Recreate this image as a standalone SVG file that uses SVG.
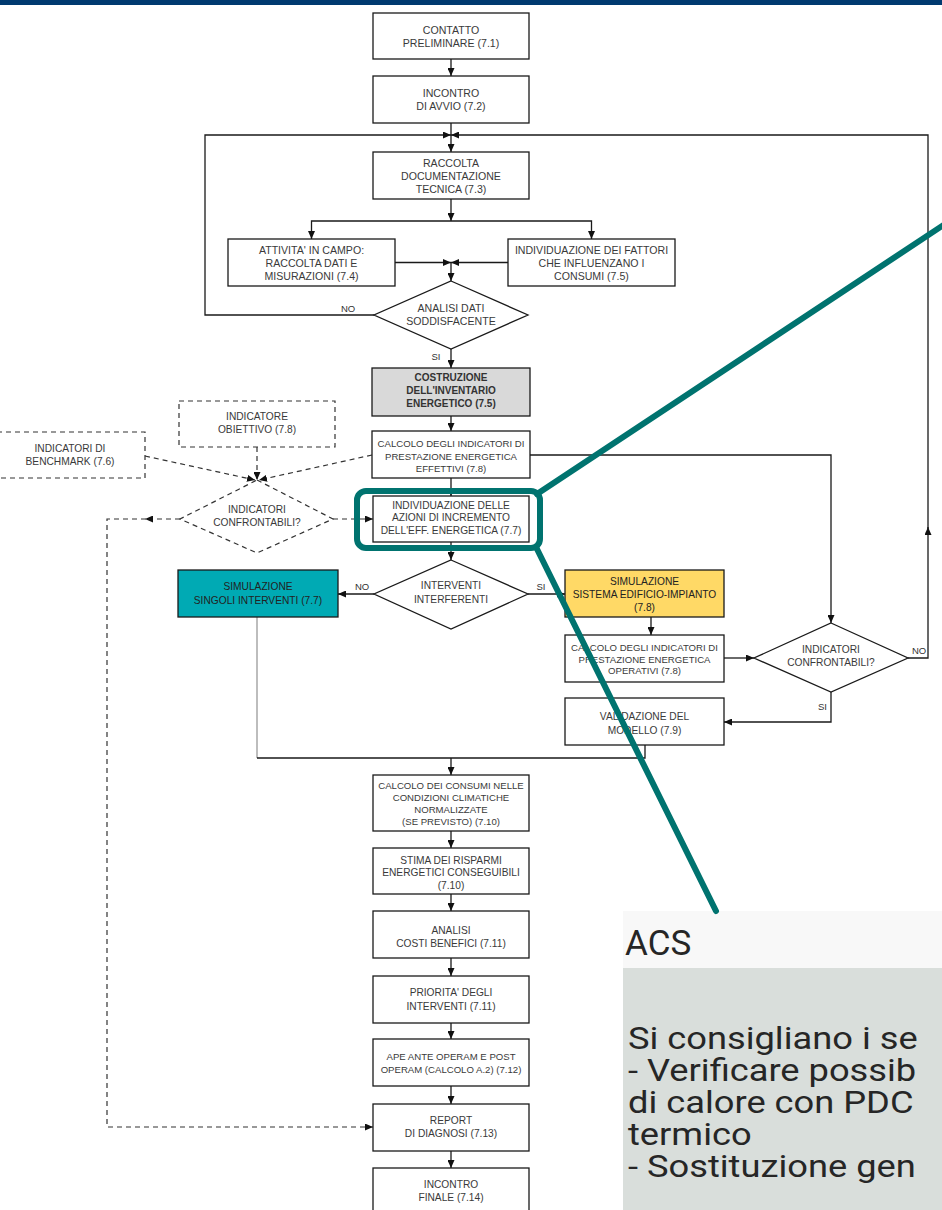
<svg xmlns="http://www.w3.org/2000/svg" width="942" height="1210" viewBox="0 0 942 1210">
  <defs>
    <marker id="arrow" viewBox="0 0 8 7" refX="8" refY="3.5" markerWidth="8" markerHeight="7" markerUnits="userSpaceOnUse" orient="auto">
      <path d="M0,0 L8,3.5 L0,7 Z" fill="#111"/>
    </marker>
    <style>
      .box { fill: #ffffff; stroke: #1a1a1a; stroke-width: 1.3; }
      .dbox { fill: #ffffff; stroke: #333; stroke-width: 1.2; stroke-dasharray: 5 4; }
      .grey { fill: #d9d9d9; }
      .teal { fill: #00aab4; }
      .yellow { fill: #ffd966; }
      .t { font-family: "Liberation Sans", Arial, sans-serif; font-size: 10.2px; fill: #3a3a3a; text-anchor: middle; }
      .tl { font-size: 10.6px; }
      .ts { font-size: 9.6px; }
      .tb { font-weight: bold; font-size: 10px; fill: #333; }
      .dark { fill: #222; }
      .lab { font-family: "Liberation Sans", Arial, sans-serif; font-size: 9.5px; fill: #333; text-anchor: middle; }
      .ln { fill: none; stroke: #1a1a1a; stroke-width: 1.3; }
      .lg { fill: none; stroke: #9a9a9a; stroke-width: 1.3; }
      .ld { fill: none; stroke: #333; stroke-width: 1.2; stroke-dasharray: 5 4; }
      .hl { fill: none; stroke: #00736f; stroke-width: 6; stroke-linecap: round; }
      .acs { font-family: Roboto, "Noto Sans", sans-serif; fill: #262626; }
    </style>
  </defs>

  <rect width="942" height="1210" fill="#ffffff"/>
  <!-- page header band -->
  <rect x="0" y="0" width="942" height="5" fill="#003a70"/>

  <!-- connectors -->
  <g id="connectors">
    <path class="ln" d="M451,59 V76" marker-end="url(#arrow)"/>
    <path class="ln" d="M451,123 V152" marker-end="url(#arrow)"/>
    <path class="ln" d="M374,315 H205 V135 H451" marker-end="url(#arrow)"/>
    <path class="ln" d="M908,658 H928 V527" marker-end="url(#arrow)"/>
    <path class="ln" d="M928,530 V135 H451" marker-end="url(#arrow)"/>
    <path class="ln" d="M451,199 V221" marker-end="url(#arrow)"/>
    <path class="ln" d="M451,221 H311.5 V239" marker-end="url(#arrow)"/>
    <path class="ln" d="M451,221 H591.5 V239" marker-end="url(#arrow)"/>
    <path class="ln" d="M395,262.5 H451" marker-end="url(#arrow)"/>
    <path class="ln" d="M508,262.5 H451" marker-end="url(#arrow)"/>
    <path class="ln" d="M451,262.5 V281" marker-end="url(#arrow)"/>
    <path class="ln" d="M451,349 V368" marker-end="url(#arrow)"/>
    <path class="ln" d="M451,416 V431" marker-end="url(#arrow)"/>
    <path class="ln" d="M451,478 V496" marker-end="url(#arrow)"/>
    <path class="ln" d="M530,455 H831 V623" marker-end="url(#arrow)"/>
    <path class="ld" d="M145,456 L255,480" marker-end="url(#arrow)"/>
    <path class="ld" d="M257,447 V480" marker-end="url(#arrow)"/>
    <path class="ld" d="M372,455 L259,480" marker-end="url(#arrow)"/>
    <path class="ld" d="M333,519 H373" marker-end="url(#arrow)"/>
    <path class="ld" d="M180,519 H145" marker-end="url(#arrow)"/>
    <path class="ld" d="M146,519 H107 V1127 H373" marker-end="url(#arrow)"/>
    <path class="ln" d="M451,542 V560" marker-end="url(#arrow)"/>
    <path class="ln" d="M374,594 H338" marker-end="url(#arrow)"/>
    <path class="ln" d="M528,594 H565" marker-end="url(#arrow)"/>
    <path class="ln" d="M651,617 V635" marker-end="url(#arrow)"/>
    <path class="ln" d="M724,658 H754" marker-end="url(#arrow)"/>
    <path class="ln" d="M831,692 V722 H724" marker-end="url(#arrow)"/>
    <path class="lg" d="M257,617 V758"/>
    <path class="ln" d="M257,758 H645 V745"/>
    <path class="ln" d="M451,758 V775" marker-end="url(#arrow)"/>
    <path class="ln" d="M451,831 V848" marker-end="url(#arrow)"/>
    <path class="ln" d="M451,894 V911" marker-end="url(#arrow)"/>
    <path class="ln" d="M451,958 V976" marker-end="url(#arrow)"/>
    <path class="ln" d="M451,1023 V1039" marker-end="url(#arrow)"/>
    <path class="ln" d="M451,1086 V1104" marker-end="url(#arrow)"/>
    <path class="ln" d="M451,1151 V1168" marker-end="url(#arrow)"/>
    <text class="lab" x="348" y="311.5">NO</text>
    <text class="lab" x="436" y="359.5">SI</text>
    <text class="lab" x="362" y="590">NO</text>
    <text class="lab" x="541" y="590">SI</text>
    <text class="lab" x="919" y="654">NO</text>
    <text class="lab" x="822.5" y="710">SI</text>
  </g>

  <g id="n-contatto">
    <rect class="box" x="373" y="13" width="156" height="46"/>
    <text class="t tl" x="451" y="33.5">CONTATTO</text>
    <text class="t tl" x="451" y="47">PRELIMINARE (7.1)</text>
  </g>
  <g id="n-incontro-avvio">
    <rect class="box" x="373" y="76" width="156" height="47"/>
    <text class="t tl" x="451" y="97">INCONTRO</text>
    <text class="t tl" x="451" y="110">DI AVVIO (7.2)</text>
  </g>
  <g id="n-raccolta">
    <rect class="box" x="373" y="152" width="156" height="47"/>
    <text class="t tl" x="451" y="167">RACCOLTA</text>
    <text class="t tl" x="451" y="180">DOCUMENTAZIONE</text>
    <text class="t tl" x="451" y="193">TECNICA (7.3)</text>
  </g>
  <g id="n-attivita">
    <rect class="box" x="228" y="239" width="167" height="47"/>
    <text class="t tl" x="311.5" y="253.5">ATTIVITA' IN CAMPO:</text>
    <text class="t tl" x="311.5" y="267">RACCOLTA DATI E</text>
    <text class="t tl" x="311.5" y="280">MISURAZIONI (7.4)</text>
  </g>
  <g id="n-fattori">
    <rect class="box" x="508" y="239" width="167" height="47"/>
    <text class="t tl" x="591.5" y="253.5">INDIVIDUAZIONE DEI FATTORI</text>
    <text class="t tl" x="591.5" y="267">CHE  INFLUENZANO I</text>
    <text class="t tl" x="591.5" y="280">CONSUMI (7.5)</text>
  </g>
  <g id="n-analisi-dati">
    <polygon class="box" points="451,281 528,315 451,349 374,315"/>
    <text class="t tl" x="451" y="312">ANALISI DATI</text>
    <text class="t tl" x="451" y="325">SODDISFACENTE</text>
  </g>
  <g id="n-costruzione">
    <rect class="box grey" x="372" y="368" width="158" height="48"/>
    <text class="t tb" x="451" y="381">COSTRUZIONE</text>
    <text class="t tb" x="451" y="394">DELL'INVENTARIO</text>
    <text class="t tb" x="451" y="406.5">ENERGETICO (7.5)</text>
  </g>
  <g id="n-obiettivo">
    <rect class="dbox" x="179" y="401" width="156" height="46"/>
    <text class="t" x="257" y="419.5">INDICATORE</text>
    <text class="t" x="257" y="432.5">OBIETTIVO (7.8)</text>
  </g>
  <g id="n-benchmark">
    <rect class="dbox" x="-3" y="432" width="148" height="46"/>
    <text class="t" x="70" y="452">INDICATORI DI</text>
    <text class="t" x="70" y="464.5">BENCHMARK (7.6)</text>
  </g>
  <g id="n-calcolo-effettivi">
    <rect class="box" x="372" y="431" width="158" height="47"/>
    <text class="t ts" x="451" y="447">CALCOLO DEGLI INDICATORI DI</text>
    <text class="t ts" x="451" y="459.5">PRESTAZIONE ENERGETICA</text>
    <text class="t ts" x="451" y="471.5">EFFETTIVI (7.8)</text>
  </g>
  <g id="n-confrontabili-1">
    <polygon class="dbox" points="257,480 333,519 257,553 180,519"/>
    <text class="t" x="257" y="513">INDICATORI</text>
    <text class="t" x="257" y="525.5">CONFRONTABILI?</text>
  </g>
  <g id="n-azioni">
    <rect class="box" x="373" y="496" width="156" height="46"/>
    <text class="t" x="451" y="508.5">INDIVIDUAZIONE DELLE</text>
    <text class="t" x="451" y="521">AZIONI DI INCREMENTO</text>
    <text class="t" x="451" y="533.5">DELL'EFF. ENERGETICA (7.7)</text>
  </g>
  <g id="n-interferenti">
    <polygon class="box" points="451,560 528,594 451,629 374,594"/>
    <text class="t" x="451" y="588.5">INTERVENTI</text>
    <text class="t" x="451" y="602.5">INTERFERENTI</text>
  </g>
  <g id="n-sim-singoli">
    <rect class="box teal" x="178" y="570" width="160" height="47"/>
    <text class="t dark" x="258" y="589.5">SIMULAZIONE</text>
    <text class="t dark" x="258" y="603.5">SINGOLI INTERVENTI (7.7)</text>
  </g>
  <g id="n-sim-sistema">
    <rect class="box yellow" x="565" y="570" width="159" height="47"/>
    <text class="t dark" x="644.5" y="584.5">SIMULAZIONE</text>
    <text class="t dark" x="644.5" y="597.5">SISTEMA EDIFICIO-IMPIANTO</text>
    <text class="t dark" x="644.5" y="610.5">(7.8)</text>
  </g>
  <g id="n-calcolo-operativi">
    <rect class="box" x="565" y="635" width="159" height="47"/>
    <text class="t ts" x="644.5" y="650.5">CALCOLO DEGLI INDICATORI DI</text>
    <text class="t ts" x="644.5" y="662.5">PRESTAZIONE ENERGETICA</text>
    <text class="t ts" x="644.5" y="674">OPERATIVI (7.8)</text>
  </g>
  <g id="n-confrontabili-2">
    <polygon class="box" points="831,623 908,658 831,692 754,658"/>
    <text class="t" x="831" y="652.5">INDICATORI</text>
    <text class="t" x="831" y="665.5">CONFRONTABILI?</text>
  </g>
  <g id="n-validazione">
    <rect class="box" x="565" y="698" width="159" height="47"/>
    <text class="t" x="644.5" y="720">VALIDAZIONE DEL</text>
    <text class="t" x="644.5" y="733.5">MODELLO (7.9)</text>
  </g>
  <g id="n-consumi">
    <rect class="box" x="373" y="775" width="156" height="56"/>
    <text class="t ts" x="451" y="788.5">CALCOLO DEI CONSUMI NELLE</text>
    <text class="t ts" x="451" y="800.5">CONDIZIONI CLIMATICHE</text>
    <text class="t ts" x="451" y="812.5">NORMALIZZATE</text>
    <text class="t ts" x="451" y="825">(SE PREVISTO) (7.10)</text>
  </g>
  <g id="n-stima">
    <rect class="box" x="373" y="848" width="156" height="46"/>
    <text class="t" x="451" y="863.5">STIMA DEI RISPARMI</text>
    <text class="t" x="451" y="876">ENERGETICI CONSEGUIBILI</text>
    <text class="t" x="451" y="889">(7.10)</text>
  </g>
  <g id="n-costi-benefici">
    <rect class="box" x="373" y="911" width="156" height="47"/>
    <text class="t" x="451" y="933.5">ANALISI</text>
    <text class="t" x="451" y="946.5">COSTI BENEFICI (7.11)</text>
  </g>
  <g id="n-priorita">
    <rect class="box" x="373" y="976" width="156" height="47"/>
    <text class="t" x="451" y="996">PRIORITA' DEGLI</text>
    <text class="t" x="451" y="1009.5">INTERVENTI (7.11)</text>
  </g>
  <g id="n-ape">
    <rect class="box" x="373" y="1039" width="156" height="47"/>
    <text class="t ts" x="451" y="1059.5">APE ANTE OPERAM E POST</text>
    <text class="t ts" x="451" y="1072.5">OPERAM (CALCOLO A.2) (7.12)</text>
  </g>
  <g id="n-report">
    <rect class="box" x="373" y="1104" width="156" height="47"/>
    <text class="t" x="451" y="1123.5">REPORT</text>
    <text class="t" x="451" y="1137">DI DIAGNOSI (7.13)</text>
  </g>
  <g id="n-finale">
    <rect class="box" x="373" y="1168" width="156" height="47"/>
    <text class="t" x="451" y="1187.5">INCONTRO</text>
    <text class="t" x="451" y="1200.5">FINALE (7.14)</text>
  </g>

  <!-- ACS note panel (screenshot text, stretched horizontally) -->
  <g id="acs-panel">
    <rect x="623" y="911" width="319" height="57" fill="#f8f8f8"/>
    <rect x="623" y="968" width="319" height="242" fill="#d9dedb"/>
    <text class="acs" x="625" y="955" font-size="35">ACS</text>
    <text class="acs" transform="translate(628 1049) scale(1.17 1)" font-size="31">Si consigliano i se</text>
    <text class="acs" transform="translate(628 1081) scale(1.17 1)" font-size="31">- Verificare possib</text>
    <text class="acs" transform="translate(628 1113) scale(1.17 1)" font-size="31">di calore con PDC</text>
    <text class="acs" transform="translate(628 1145) scale(1.17 1)" font-size="31">termico</text>
    <text class="acs" transform="translate(628 1177) scale(1.17 1)" font-size="31">- Sostituzione gen</text>
  </g>

  <!-- highlight callout -->
  <g id="callout">
    <rect class="hl" x="357" y="491" width="183" height="57" rx="9"/>
    <path class="hl" d="M537,494 L945,224"/>
    <path class="hl" d="M536,547 L716,911"/>
  </g>
</svg>
